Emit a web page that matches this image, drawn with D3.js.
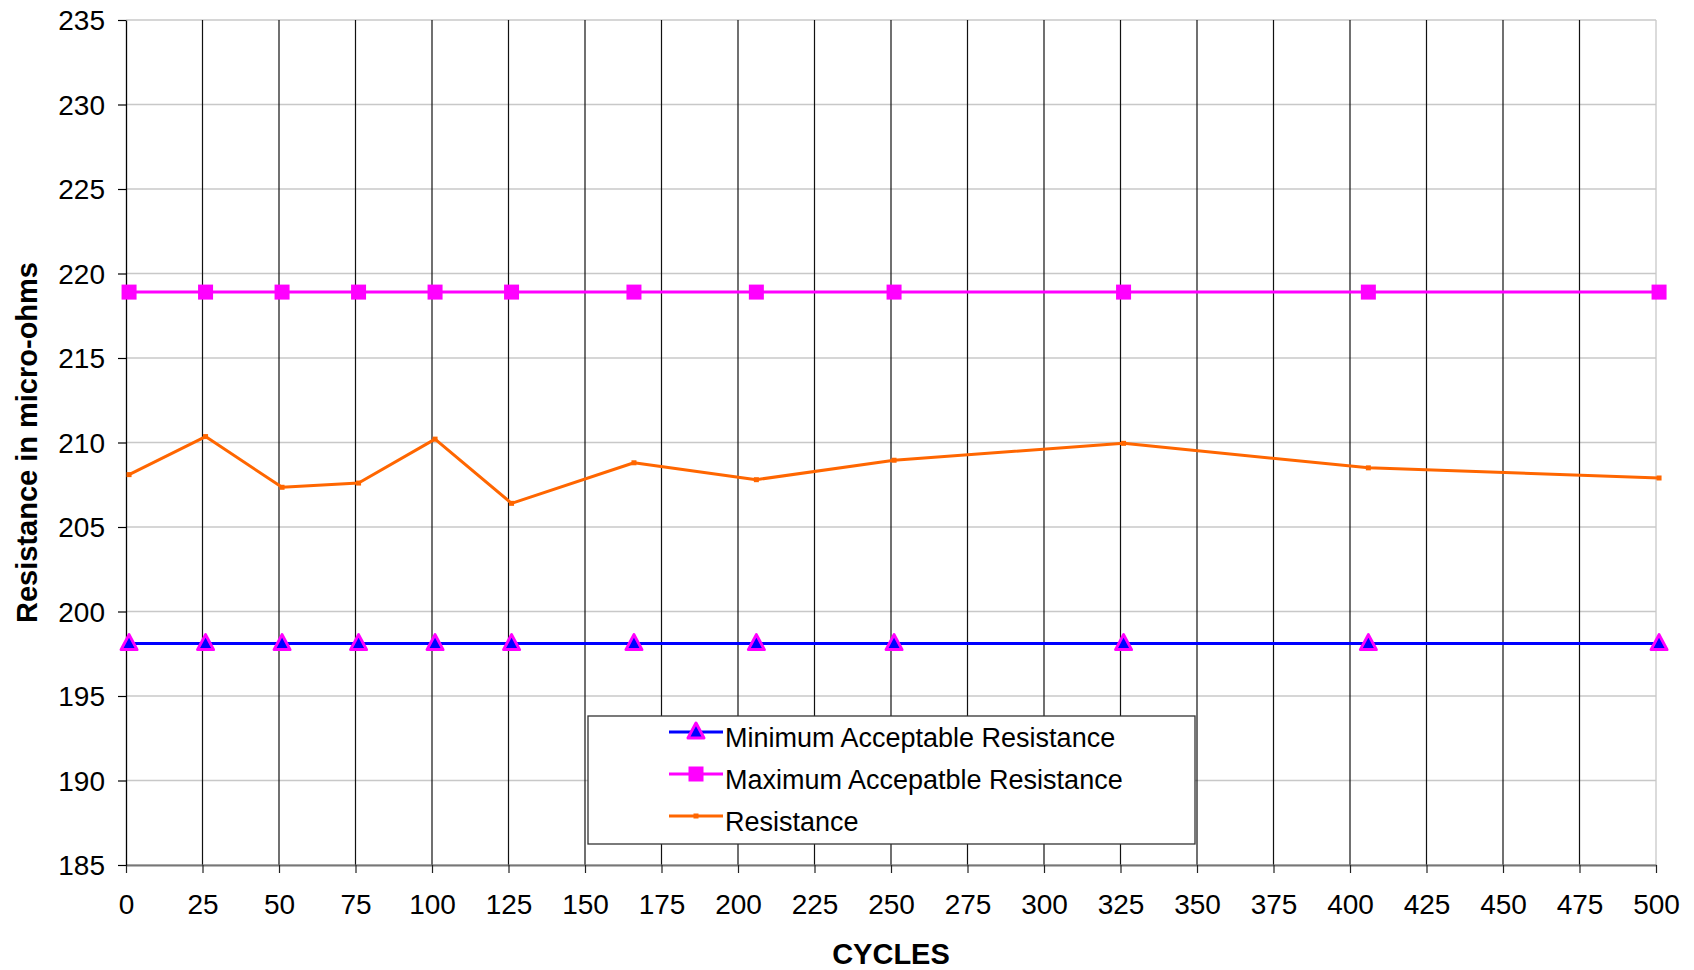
<!DOCTYPE html>
<html>
<head>
<meta charset="utf-8">
<script src="https://cdn.jsdelivr.net/npm/d3@7"></script>
<style>
  body { margin: 0; background: #fff; }
  svg { font-family: 'Liberation Sans', Arial, sans-serif; }
</style>
</head>
<body>
<svg width="1694" height="970"></svg>
<script>
// data
const cycles = [1, 26, 51, 76, 101, 126, 166, 206, 251, 326, 406, 501];
const minResistance = [198.1, 198.1, 198.1, 198.1, 198.1, 198.1, 198.1, 198.1, 198.1, 198.1, 198.1, 198.1];
const maxResistance = [218.9, 218.9, 218.9, 218.9, 218.9, 218.9, 218.9, 218.9, 218.9, 218.9, 218.9, 218.9];
const resistance = [208.1, 210.35, 207.35, 207.6, 210.2, 206.4, 208.8, 207.8, 208.95, 209.95, 208.5, 207.9];
const xTicks = d3.range(0, 501, 25);
const yTicks = d3.range(185, 236, 5);
const seriesNames = ['Minimum Acceptable Resistance', 'Maximum Accepatble Resistance', 'Resistance'];

const margin = {left: 126, right: 1656, top: 20, bottom: 865};
let svg = d3.select('svg');

let x = d3.scaleLinear().domain([0, 500]).range([margin.left, margin.right]);
let y = d3.scaleLinear().domain([185, 235]).range([margin.bottom, margin.top]);

//horizontal gridlines (light gray)
svg.append('g')
  .selectAll('line')
  .data(yTicks)
  .enter().append('line')
    .attr('x1', margin.left).attr('x2', margin.right)
    .attr('y1', d => y(d)).attr('y2', d => y(d))
    .attr('stroke', '#c8c8c8').attr('stroke-width', 1.3);

//vertical gridlines (dark)
svg.append('g')
  .selectAll('line')
  .data(xTicks.filter(d => d > 0 && d < 500))
  .enter().append('line')
    .attr('x1', d => x(d)).attr('x2', d => x(d))
    .attr('y1', margin.top).attr('y2', margin.bottom)
    .attr('stroke', '#111').attr('stroke-width', 1.2);

//right border
svg.append('line')
  .attr('x1', x(500)).attr('x2', x(500))
  .attr('y1', margin.top).attr('y2', margin.bottom)
  .attr('stroke', '#c8c8c8').attr('stroke-width', 1.3);

//axes
let xAxis = d3.axisBottom(x).tickValues(xTicks).tickSize(8).tickSizeOuter(0);
let gx = svg.append('g')
  .attr('transform', `translate(0,${margin.bottom})`)
  .call(xAxis);
gx.select('.domain').attr('stroke', '#777').attr('stroke-width', 2);
gx.selectAll('.tick line').attr('stroke', '#222').attr('stroke-width', 1.2);
gx.selectAll('.tick text')
  .attr('font-size', 28).attr('fill', '#000')
  .attr('font-family', "'Liberation Sans', Arial, sans-serif")
  .attr('y', 49).attr('dy', 0);

let yAxis = d3.axisLeft(y).tickValues(yTicks).tickSize(8).tickSizeOuter(0);
let gy = svg.append('g')
  .attr('transform', `translate(${margin.left},0)`)
  .call(yAxis);
gy.select('.domain').attr('stroke', '#000').attr('stroke-width', 1.3);
gy.selectAll('.tick line').attr('stroke', '#000').attr('stroke-width', 1.2);
gy.selectAll('.tick text')
  .attr('font-size', 28).attr('fill', '#000')
  .attr('font-family', "'Liberation Sans', Arial, sans-serif")
  .attr('x', -21).attr('dy', '0.35em');

//axis titles
svg.append('text')
  .text('CYCLES')
  .attr('x', (margin.left + margin.right) / 2)
  .attr('y', 964)
  .attr('text-anchor', 'middle')
  .attr('font-size', 29).attr('font-weight', 'bold');

svg.append('text')
  .text('Resistance in micro-ohms')
  .attr('transform', `translate(37,${(margin.top + margin.bottom) / 2}) rotate(-90)`)
  .attr('text-anchor', 'middle')
  .attr('font-size', 29).attr('font-weight', 'bold');

//lines
let line = d3.line().x(d => x(d[0])).y(d => y(d[1]));
const zip = vals => cycles.map((c, i) => [c, vals[i]]);

svg.append('path').datum(zip(minResistance))
  .attr('d', line).attr('fill', 'none').attr('stroke', '#0000ff').attr('stroke-width', 3);
svg.append('path').datum(zip(maxResistance))
  .attr('d', line).attr('fill', 'none').attr('stroke', '#ff00ff').attr('stroke-width', 3);
svg.append('path').datum(zip(resistance))
  .attr('d', line).attr('fill', 'none').attr('stroke', '#ff6600').attr('stroke-width', 3)
  .attr('stroke-linejoin', 'round');

//markers
function triangle(sel, cx, cy) {
  sel.append('path')
    .attr('d', `M${cx},${cy - 9} L${cx + 8},${cy + 6} L${cx - 8},${cy + 6} Z`)
    .attr('fill', '#0000ff').attr('stroke', '#ff00ff').attr('stroke-width', 3)
    .attr('stroke-linejoin', 'round');
}
function square(sel, cx, cy, s, color) {
  sel.append('rect')
    .attr('x', cx - s / 2).attr('y', cy - s / 2)
    .attr('width', s).attr('height', s)
    .attr('fill', color);
}

let markers = svg.append('g');
zip(minResistance).forEach(d => triangle(markers, x(d[0]), y(d[1])));
zip(maxResistance).forEach(d => square(markers, x(d[0]), y(d[1]), 15, '#ff00ff'));
zip(resistance).forEach(d => square(markers, x(d[0]), y(d[1]), 5, '#ff6600'));

//legend
let legend = svg.append('g');
legend.append('rect')
  .attr('x', 588).attr('y', 716)
  .attr('width', 607).attr('height', 128)
  .attr('fill', '#fff').attr('stroke', '#333').attr('stroke-width', 1.3);

const legendRows = [732, 774, 816];
const legendColors = ['#0000ff', '#ff00ff', '#ff6600'];
seriesNames.forEach((name, i) => {
  let ly = legendRows[i];
  legend.append('line')
    .attr('x1', 669).attr('x2', 723)
    .attr('y1', ly).attr('y2', ly)
    .attr('stroke', legendColors[i]).attr('stroke-width', 3);
  if (i === 0) triangle(legend, 696, ly);
  if (i === 1) square(legend, 696, ly, 15, '#ff00ff');
  if (i === 2) square(legend, 696, ly, 5, '#ff6600');
  legend.append('text')
    .text(name)
    .attr('x', 725).attr('y', ly + 15)
    .attr('font-size', 27);
});
</script>
</body>
</html>
